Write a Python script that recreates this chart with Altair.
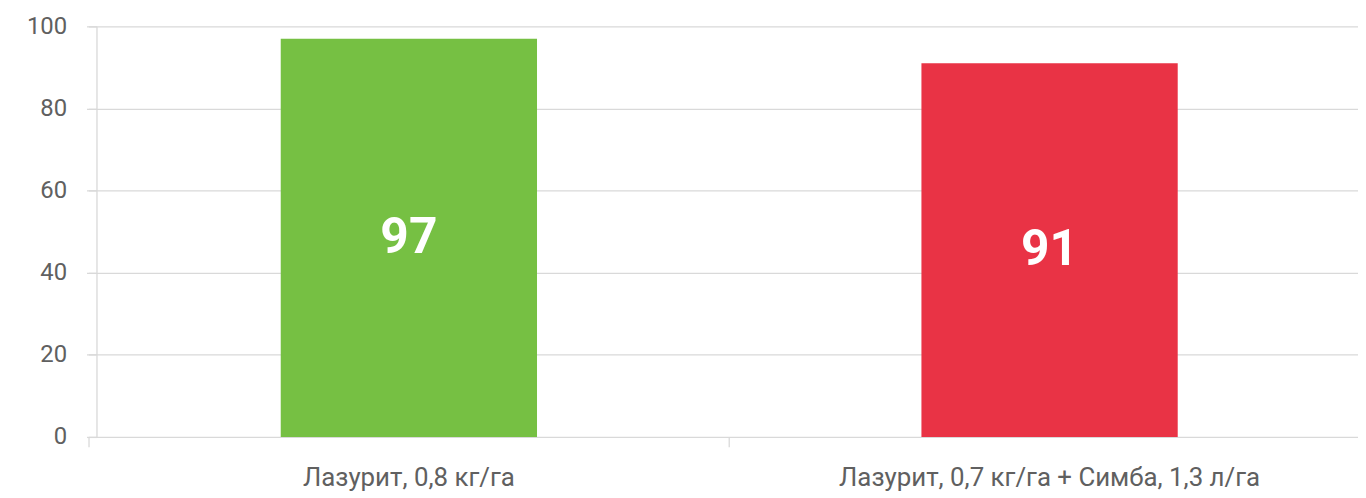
import altair as alt
import pandas as pd

categories = ["Лазурит, 0,8 кг/га", "Лазурит, 0,7 кг/га + Симба, 1,3 л/га"]
values = [97, 91]
colors = ["#76C043", "#E93345"]

df = pd.DataFrame({"cat": categories, "val": values, "color": colors})

FONT = "Roboto, sans-serif"

base = alt.Chart(df).encode(
    x=alt.X("cat:N", sort=categories, title=None,
            scale=alt.Scale(paddingInner=0, paddingOuter=0, range=[-8, 1281]),
            axis=alt.Axis(labelAngle=0, labelFontSize=26, labelColor="#606060",
                          labelFont=FONT, labelPadding=18, tickSize=10,
                          tickColor="#d9d9d9", domain=False, bandPosition=0,
                          grid=False, labelLimit=700))
)

bars = base.mark_bar(width=alt.RelativeBandSize(0.4)).encode(
    y=alt.Y("val:Q", title=None,
            scale=alt.Scale(domain=[0, 100]),
            axis=alt.Axis(values=[0, 20, 40, 60, 80, 100], labelFontSize=24,
                          labelColor="#606060", labelFont=FONT, labelPadding=20,
                          tickSize=10, tickColor="#d9d9d9", domainColor="#d9d9d9",
                          gridColor="#d9d9d9", gridWidth=1.3)),
    color=alt.Color("color:N", scale=None),
)

labels = base.transform_calculate(mid="datum.val / 2").mark_text(
    font=FONT, fontSize=50, fontWeight="bold", color="white", baseline="middle"
).encode(y="mid:Q", text="val:Q")

chart = (bars + labels).properties(
    width=1262, height=413,
    autosize=alt.AutoSizeParams(type="none"),
    padding={"left": 89, "top": 17, "right": 7, "bottom": 60},
).configure_view(stroke=None).configure_axis(domainWidth=1.3, tickWidth=1.3)

chart.save("out.html", embed_options={"renderer": "svg", "actions": False})
